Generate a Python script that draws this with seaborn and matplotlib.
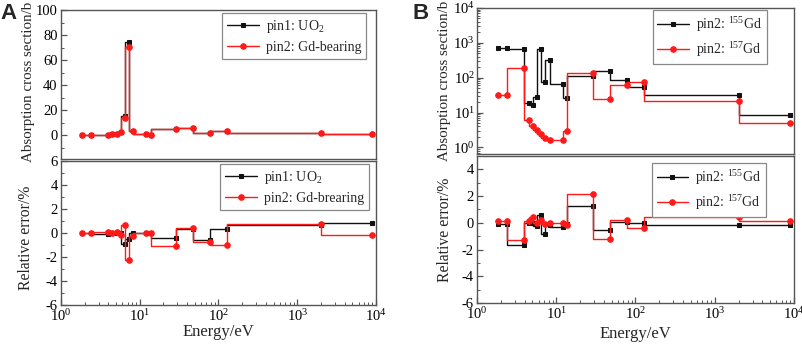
import numpy as np
import pandas as pd
import matplotlib
matplotlib.use("Agg")
import matplotlib.pyplot as plt
from matplotlib.ticker import MultipleLocator, LogLocator, NullFormatter
import seaborn as sns

# ---------------- data ----------------
energy = [1.855, 2.38, 3.93, 4.48, 5.1, 5.73, 6.45, 7.3, 8.3, 12.0, 13.8,
          28.8, 47.8, 78.0, 128.0, 2000.0, 9000.0]

# Panel A (top): absorption cross section, b
pin1_uo2_xs = [0.5, 0.5, 0.5, 1.0, 1.3, 2.6, 15.5, 74.8, 3.2, 1.0, 0.4,
               5.3, 5.9, 2.1, 3.5, 1.6, 1.0]
pin2_gd_xs = [0.5, 0.5, 0.5, 1.0, 1.3, 2.4, 14.0, 70.8, 3.2, 1.0, 0.3,
              4.8, 5.9, 2.1, 3.5, 1.6, 1.0]
# Panel A (bottom): relative error, %
pin1_uo2_err = [0.0, 0.0, -0.08, 0.0, 0.0, 0.0, -0.93, -0.47, 0.03, 0.0, 0.0,
                -0.39, 0.37, -0.6, 0.36, 0.63, 0.87]
pin2_gd_err = [0.0, 0.0, 0.1, 0.0, 0.1, -0.2, 0.66, -2.28, -0.26, 0.0, 0.0,
               -1.07, 0.38, -0.72, -0.96, 0.77, -0.14]

# Panel B (top): absorption cross section, b
gd155_xs = [700, 700, 680, 19, 16, 28, 650, 74, 330, 68, 27,
            112, 158, 84, 56, 32, 8.3]
gd157_xs = [33, 33, 195, 6.3, 4.2, 3.1, 2.4, 1.9, 1.65, 1.65, 2.9,
            135, 25, 62, 77, 22, 4.9]
# Panel B (bottom): relative error, %
gd155_err = [-0.08, -0.08, -1.63, 0.0, -0.05, -0.27, 0.55, -0.83, -0.18, -0.33, -0.12,
             1.25, -0.5, 0.05, -0.04, -0.2, -0.15]
gd157_err = [0.15, 0.15, -1.3, 0.1, 0.43, 0.0, 0.22, -0.12, 0.0, -0.02, -0.2,
             2.12, -1.18, 0.22, -0.4, 0.45, 0.12]

labels_A_top = ["pin1: UO$_2$", "pin2: Gd-bearing"]
labels_A_bot = ["pin1: UO$_2$", "pin2: Gd-brearing"]
labels_B = ["pin2: $^{155}$Gd", "pin2: $^{157}$Gd"]

# ---------------- style ----------------
sns.set_style("ticks")
plt.rcParams["font.family"] = ["Liberation Serif", "DejaVu Serif"]
plt.rcParams["mathtext.fontset"] = "custom"
plt.rcParams["mathtext.rm"] = "Liberation Serif"
plt.rcParams["mathtext.it"] = "Liberation Serif:italic"
plt.rcParams["mathtext.bf"] = "Liberation Serif:bold"
plt.rcParams["axes.unicode_minus"] = False

SPINE = "#555555"
BLACK = "#111111"
RED = "#ff1a1a"

fig = plt.figure(figsize=(8.03, 3.46), dpi=100)
W, H = 803.0, 346.0


def add_ax(l, r, t, b):
    return fig.add_axes([l / W, 1 - b / H, (r - l) / W, (b - t) / H])


axA1 = add_ax(61, 376, 10, 159)
axA2 = add_ax(61, 376, 161, 305)
axB1 = add_ax(477, 794, 8, 154)
axB2 = add_ax(477, 794, 156, 303)


def draw(ax, y1, y2, labels):
    df1 = pd.DataFrame({"E": energy, "v": y1})
    df2 = pd.DataFrame({"E": energy, "v": y2})
    sns.lineplot(data=df1, x="E", y="v", ax=ax, drawstyle="steps-pre",
                 color=BLACK, marker="s", markersize=3.3, mec=BLACK, mfc=BLACK,
                 lw=1.0, label=labels[0])
    sns.lineplot(data=df2, x="E", y="v", ax=ax, drawstyle="steps-pre",
                 color=RED, marker="o", markersize=4.0, mec=RED, mfc=RED,
                 lw=1.0, label=labels[1])


draw(axA1, pin1_uo2_xs, pin2_gd_xs, labels_A_top)
draw(axA2, pin1_uo2_err, pin2_gd_err, labels_A_bot)
draw(axB1, gd155_xs, gd157_xs, labels_B)
draw(axB2, gd155_err, gd157_err, labels_B)

for ax in (axA1, axA2, axB1, axB2):
    ax.set_xscale("log")
    ax.set_xlim(1, 1e4)
    for s in ax.spines.values():
        s.set_visible(True)
        s.set_color(SPINE)
        s.set_linewidth(1.0)
    ax.tick_params(which="both", direction="in", colors=SPINE, pad=2.5,
                   labelcolor="black", labelsize=10.5, top=False, right=False)
    ax.tick_params(which="major", length=4, width=0.9)
    ax.tick_params(which="minor", length=2, width=0.7)
    ax.xaxis.set_major_locator(LogLocator(base=10, numticks=10))
    ax.xaxis.set_minor_locator(LogLocator(base=10, subs=np.arange(2, 10), numticks=10))
    ax.xaxis.set_minor_formatter(NullFormatter())
    ax.set_xlabel("")
    ax.set_ylabel("")

for ax in (axA1, axB1):
    ax.tick_params(axis="x", which="both", bottom=False, labelbottom=False)

# Panel A top
axA1.set_ylim(-19, 100)
axA1.yaxis.set_major_locator(MultipleLocator(20))
axA1.yaxis.set_minor_locator(MultipleLocator(10))
# Panel A bottom
axA2.set_ylim(-6, 6)
axA2.yaxis.set_major_locator(MultipleLocator(2))
axA2.yaxis.set_minor_locator(MultipleLocator(1))
# Panel B top
axB1.set_yscale("log")
axB1.set_ylim(0.65, 1e4)
axB1.yaxis.set_major_locator(LogLocator(base=10, numticks=10))
axB1.yaxis.set_minor_locator(LogLocator(base=10, subs=np.arange(2, 10), numticks=10))
axB1.yaxis.set_minor_formatter(NullFormatter())
axB1.tick_params(axis="y", pad=1.5)
# Panel B bottom
axB2.set_ylim(-6, 5)
axB2.yaxis.set_major_locator(MultipleLocator(2))
axB2.yaxis.set_minor_locator(MultipleLocator(1))

LAB = 10.8
axA1.set_ylabel("Absorption cross section/b", fontsize=LAB)
axA1.yaxis.set_label_coords(-0.083, 0.52)
axA2.set_ylabel("Relative error/%", fontsize=LAB + 0.5)
axA2.yaxis.set_label_coords(-0.086, 0.47)
axB1.set_ylabel("Absorption cross section/b", fontsize=LAB)
axB1.yaxis.set_label_coords(-0.083, 0.50)
axB2.set_ylabel("Relative error/%", fontsize=LAB + 0.5)
axB2.yaxis.set_label_coords(-0.076, 0.5)
axA2.set_xlabel("Energy/eV", fontsize=12)
axA2.xaxis.set_label_coords(0.5, -0.135)
axB2.set_xlabel("Energy/eV", fontsize=12)
axB2.xaxis.set_label_coords(0.5, -0.155)

leg_kw = dict(loc="upper right", fontsize=10, frameon=True, fancybox=False,
              edgecolor="#888888", framealpha=1, handlelength=2.3,
              borderpad=0.35, labelspacing=0.45, handletextpad=0.5,
              borderaxespad=0.0)
for ax, anchor in ((axA1, (0.968, 0.98)), (axA2, (0.978, 0.979)),
                   (axB1, (0.915, 0.985)), (axB2, (0.912, 0.952))):
    lg = ax.legend(bbox_to_anchor=anchor, **leg_kw)
    lg.get_frame().set_linewidth(0.9)

fig.text(0.0, 0.99, "A", fontsize=16, fontweight="bold", va="top", ha="left",
         family=["Liberation Sans", "DejaVu Sans"])
fig.text(412 / W, 0.99, "B", fontsize=16, fontweight="bold", va="top", ha="left",
         family=["Liberation Sans", "DejaVu Sans"])

fig.savefig("out.png", dpi=100)
